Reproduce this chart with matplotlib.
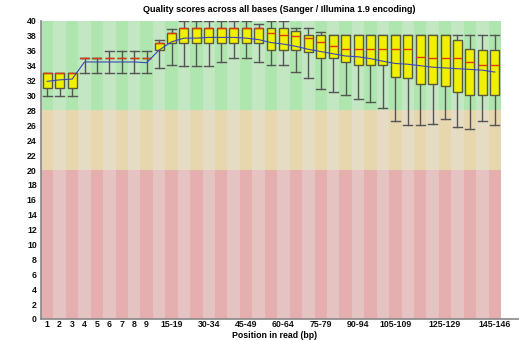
import matplotlib
matplotlib.use("Agg")
import matplotlib.pyplot as plt
from matplotlib.lines import Line2D

# ── data ────────────────────────────────────────────────────────────────────
LABELS = [str(i) for i in range(1, 10)] + \
         [f"{s}-{s + 4}" for s in range(10, 145, 5)] + ["145-146"]
SHOWN = ["1", "2", "3", "4", "5", "6", "7", "8", "9", "15-19", "30-34", "45-49",
         "60-64", "75-79", "90-94", "105-109", "125-129", "145-146"]

MEDIAN = [33, 33, 33, 35, 35, 35, 35, 35, 35, 37, 38.4,
          39, 39, 39, 39, 39, 39, 39, 38.4, 38.1, 38.0, 37.7, 37.2, 36.6,
          36.2, 36.2, 36.2, 36.2, 36.2, 36.2, 35.2, 35.1, 35.1, 35.1, 34.5, 34.1, 34.1]
Q1 = [31, 31, 31, 35, 35, 35, 35, 35, 35, 36.1, 37.1,
      37, 37, 37, 37, 37, 37, 37, 36.1, 36.1, 36.1, 35.9, 35.1, 35.1,
      34.5, 34.1, 34.1, 34.1, 32.5, 32.3, 31.6, 31.6, 31.3, 30.5, 30.1, 30.1, 30.1]
Q3 = [33, 33, 33, 35, 35, 35, 35, 35, 35, 37, 38.4,
      39, 39, 39, 39, 39, 39, 39, 39, 39, 38.6, 38.1, 38.1, 38.1,
      38.1, 38.1, 38.1, 38.1, 38.1, 38.1, 38.1, 38.1, 38.1, 37.5, 36.3, 36.1, 36.1]
LOW = [30, 30, 30, 33, 33, 33, 33, 33, 33, 33.7, 34.1,
       34, 34, 34, 34.5, 35.1, 35.1, 34.5, 34.1, 34.1, 33.1, 32.3, 30.9, 30.5,
       30.1, 29.5, 29.1, 28.3, 26.6, 26.1, 26.1, 26.2, 26.9, 25.8, 25.5, 26.6, 26.1]
HIGH = [33, 33, 33, 35, 35, 36, 36, 36, 36, 37.4, 38.9,
        40, 40, 40, 40, 40, 40, 39.6, 40, 40, 39.1, 39.0, 38.5, 38.1,
        38.1, 38.1, 38.1, 38.1, 38.1, 38.1, 38.1, 38.1, 38.1, 38.1, 38.1, 38.1, 38.1]
MEAN = [31.9, 32.1, 32.2, 34.5, 34.5, 34.5, 34.5, 34.5, 34.4, 36.1, 37.2,
        37.7, 37.7, 37.8, 37.8, 37.8, 37.7, 37.5, 37.1, 36.9, 36.6, 36.2, 35.9, 35.6,
        35.3, 35.2, 34.95, 34.6, 34.3, 34.2, 34.0, 33.8, 33.7, 33.6, 33.5, 33.4, 33.15]

# quality zones: (bottom, top, light colour, dark colour)
ZONES = [(0, 20, "#e6c3c3", "#e6afaf"),
         (20, 28, "#e6dcc3", "#e6d7af"),
         (28, 40, "#c3e6c3", "#afe6af")]

FONT = ["Liberation Sans", "DejaVu Sans"]
W, H = 519, 340


def main():
    fig = plt.figure(figsize=(W / 100, H / 100), dpi=100)
    ax = fig.add_axes([41 / W, 21 / H, 460 / W, 298 / H])
    n = len(LABELS)
    x = list(range(n))

    # striped background
    for lo, hi, light, dark in ZONES:
        ax.bar(x, hi - lo, bottom=lo, width=1.0, linewidth=0,
               color=[dark if i % 2 == 0 else light for i in x], zorder=0)

    stats = [dict(med=MEDIAN[i], q1=Q1[i], q3=Q3[i], whislo=LOW[i],
                  whishi=HIGH[i], label=LABELS[i]) for i in x]
    ax.bxp(stats, positions=x, widths=0.72, capwidths=0.72, patch_artist=True,
           showfliers=False, manage_ticks=False,
           boxprops=dict(facecolor="#f0f000", edgecolor="#5a5a40", linewidth=1.0, zorder=3),
           whiskerprops=dict(color="#555555", linewidth=1.0, zorder=2),
           capprops=dict(color="#555555", linewidth=1.0, zorder=2),
           medianprops=dict(color="#e03a10", linewidth=1.0, zorder=4))
    ax.plot(x, MEAN, color="#3a48b8", linewidth=0.8, zorder=5)

    ax.set_xlim(-0.5, n - 0.5)
    ax.set_ylim(0, 40)
    ax.set_yticks(range(0, 41, 2))
    ax.set_xticks([LABELS.index(s) for s in SHOWN])
    ax.set_xticklabels(SHOWN)
    ax.tick_params(length=0, labelsize=6.3, colors="#111111")
    ax.tick_params(axis="y", pad=3)
    ax.tick_params(axis="x", pad=1)
    for t in ax.get_xticklabels() + ax.get_yticklabels():
        t.set_family(FONT)
        t.set_fontweight("bold")

    for s in ("top", "right"):
        ax.spines[s].set_visible(False)
    ax.spines["left"].set_color("#888888")
    ax.spines["left"].set_linewidth(1.2)
    ax.spines["bottom"].set_visible(False)
    fig.add_artist(Line2D([41 / W, 1.0], [21 / H, 21 / H], color="#888888",
                          linewidth=1.2, transform=fig.transFigure))

    fig.text(279 / W, 1 - 10 / H, "Quality scores across all bases (Sanger / Illumina 1.9 encoding)",
             ha="center", va="center", fontsize=6.5, fontweight="bold", family=FONT)
    fig.text(275 / W, 1 - 335.5 / H, "Position in read (bp)", ha="center", va="center",
             fontsize=6.3, fontweight="bold", family=FONT)

    fig.savefig("out.png", dpi=100, facecolor="white")
    plt.close(fig)


if __name__ == "__main__":
    main()
